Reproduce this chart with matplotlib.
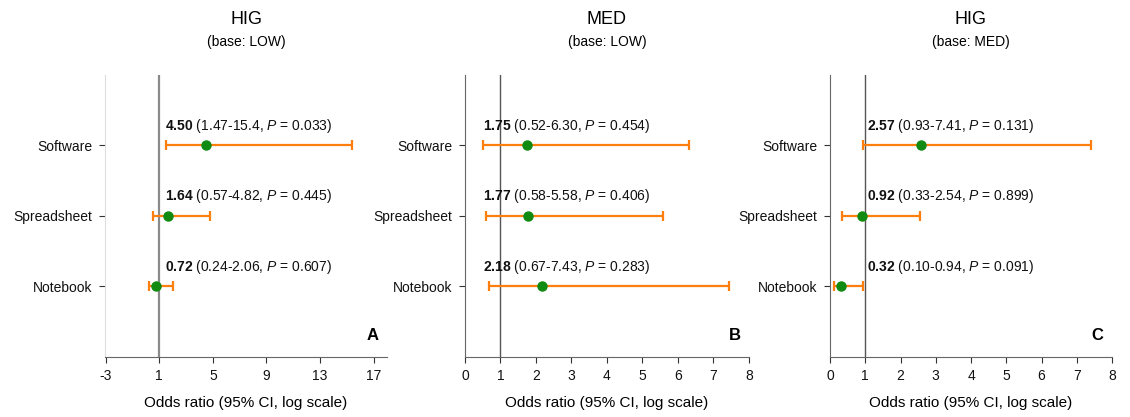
import numpy as np
import matplotlib
matplotlib.use("Agg")
import matplotlib.pyplot as plt

plt.rcParams['font.family'] = ['Liberation Sans', 'DejaVu Sans']
plt.rcParams['axes.unicode_minus'] = False
plt.rcParams['mathtext.fontset'] = 'custom'
plt.rcParams['mathtext.rm'] = 'Liberation Sans'
plt.rcParams['mathtext.bf'] = 'Liberation Sans:bold'
plt.rcParams['mathtext.it'] = 'Liberation Sans:italic'

# data
categories = ['Software', 'Spreadsheet', 'Notebook']
panel_titles = ['HIG', 'MED', 'HIG']
panel_bases = ['(base: LOW)', '(base: LOW)', '(base: MED)']
panel_letters = ['A', 'B', 'C']

or_a = [4.50, 1.64, 0.72]
lo_a = [1.47, 0.57, 0.24]
hi_a = [15.4, 4.82, 2.06]
p_a = ['0.033', '0.445', '0.607']

or_b = [1.75, 1.77, 2.18]
lo_b = [0.52, 0.58, 0.67]
hi_b = [6.30, 5.58, 7.43]
p_b = ['0.454', '0.406', '0.283']

or_c = [2.57, 0.92, 0.32]
lo_c = [0.93, 0.33, 0.10]
hi_c = [7.41, 2.54, 0.94]
p_c = ['0.131', '0.899', '0.091']

xticks_a = [-3, 1, 5, 9, 13, 17]
xticks_bc = [0, 1, 2, 3, 4, 5, 6, 7, 8]

panels = [
    (or_a, lo_a, hi_a, p_a, xticks_a, (-3.05, 18.0), 1.45),
    (or_b, lo_b, hi_b, p_b, xticks_bc, (0, 8.0), 0.5),
    (or_c, lo_c, hi_c, p_c, xticks_bc, (0, 8.0), 1.05),
]

fig = plt.figure(figsize=(11.3, 4.17), dpi=100)
boxes = [
    [105 / 1130, 0.1439, 282 / 1130, 0.6763],
    [465 / 1130, 0.1439, 284 / 1130, 0.6763],
    [830 / 1130, 0.1439, 282 / 1130, 0.6763],
]

ypos = [3, 2, 1]
orange = '#ff7f0e'
green = '#118a11'

for i, (ors, los, his, ps, xt, xl, tx) in enumerate(panels):
    ax = fig.add_axes(boxes[i])
    ors = np.array(ors)
    err = [ors - np.array(los), np.array(his) - ors]
    ax.axvline(1, color='#8a8a8a' if i == 0 else '#555555',
               lw=1.6 if i == 0 else 1.0, zorder=1)
    ax.errorbar(ors, ypos, xerr=err, fmt='none', ecolor=orange,
                elinewidth=1.6, capsize=3.8, capthick=1.6, zorder=2)
    ax.plot(ors, ypos, 'o', color=green, ms=6.5, zorder=3)
    for j in range(3):
        hi_s = '%.2f' % his[j] if his[j] < 10 else '%.1f' % his[j]
        label = r'$\mathbf{%.2f}$ (%.2f-%s, $\mathit{P}$ = %s)' % (ors[j], los[j], hi_s, ps[j])
        ax.text(tx, ypos[j] + 0.28, label, fontsize=10, ha='left', va='center',
                color='#111111')
    ax.set_xlim(*xl)
    ax.set_ylim(0, 4)
    ax.set_xticks(xt)
    ax.set_yticks(ypos)
    ax.set_yticklabels(categories)
    ax.tick_params(axis='both', labelsize=10, direction='out', length=4,
                   color='#333333', labelcolor='#111111', pad=5)
    for s in ['top', 'right']:
        ax.spines[s].set_visible(False)
    ax.spines['bottom'].set_color('#666666')
    ax.spines['left'].set_color('#dddddd' if i == 0 else '#666666')
    ax.set_xlabel('Odds ratio (95% CI, log scale)', fontsize=11, labelpad=9)
    ax.text(0.5, 1.195, panel_titles[i], transform=ax.transAxes, ha='center',
            va='center', fontsize=13)
    ax.text(0.5, 1.118, panel_bases[i], transform=ax.transAxes, ha='center',
            va='center', fontsize=10)
    ax.text(0.97, 0.05, panel_letters[i], transform=ax.transAxes, ha='right',
            va='bottom', fontsize=12, fontweight='bold')

fig.savefig('out.png', dpi=100)
